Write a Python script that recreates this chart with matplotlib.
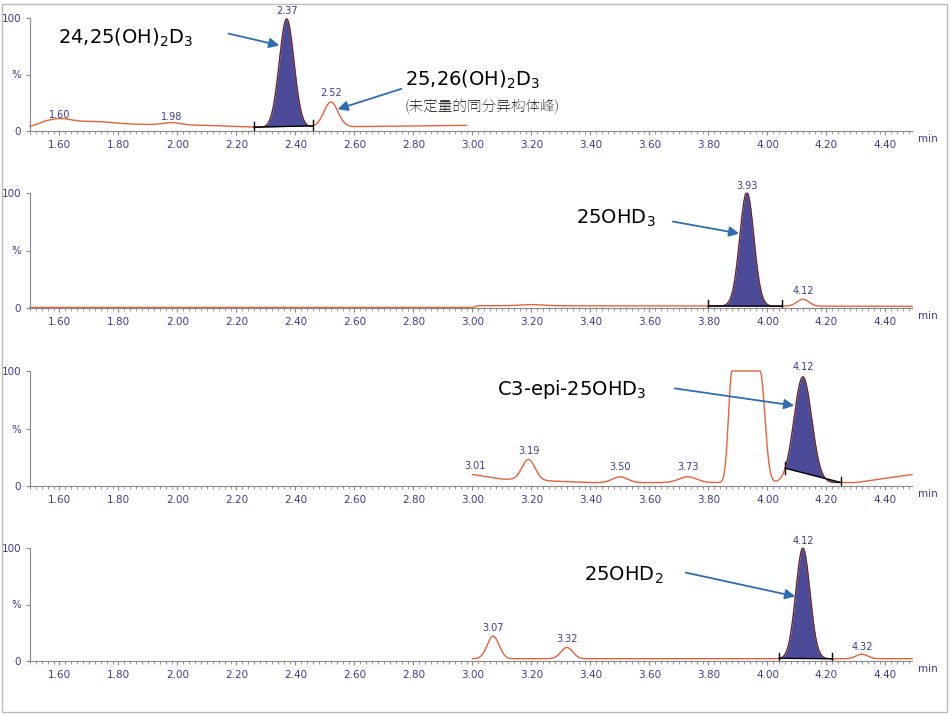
import numpy as np
import matplotlib
matplotlib.use("Agg")
import matplotlib.pyplot as plt
from matplotlib import font_manager

# ---- data: peak tables per panel (centre min, height %, width sigma min)
x_ticks = [1.60, 1.80, 2.00, 2.20, 2.40, 2.60, 2.80, 3.00, 3.20, 3.40, 3.60, 3.80, 4.00, 4.20, 4.40]
p1_peaks = [(1.60, 4, 0.04), (1.72, 2, 0.06), (1.98, 2, 0.03), (2.37, 96, 0.025), (2.52, 22, 0.024)]
p1_base = [(1.50, 4), (1.55, 7), (2.10, 5), (2.30, 3), (2.98, 5)]
p2_peaks = [(3.20, 1, 0.04), (3.93, 99, 0.024), (4.12, 6, 0.02)]
p2_base = [(1.50, 0.5), (3.00, 0.5), (3.02, 2), (4.49, 1.5)]
p3_peaks = [(3.19, 18, 0.022), (3.50, 5, 0.025), (3.73, 5, 0.03), (4.12, 92, 0.03)]
p3_base = [(3.00, 10), (3.10, 6), (3.40, 3), (3.80, 3), (4.30, 3), (4.49, 10)]
p3_sat = (3.88, 3.975)
p4_peaks = [(3.07, 20, 0.02), (3.32, 10, 0.02), (4.12, 98, 0.024), (4.32, 4, 0.02)]
p4_base = [(3.00, 2), (4.49, 2)]
peak_labels = [
    [(1.60, 9, "1.60"), (1.98, 7, "1.98"), (2.37, 101, "2.37"), (2.52, 28, "2.52")],
    [(3.93, 101, "3.93"), (4.12, 9, "4.12")],
    [(3.01, 12, "3.01"), (3.19, 25, "3.19"), (3.50, 11, "3.50"), (3.73, 11, "3.73"), (4.12, 98, "4.12")],
    [(3.07, 24, "3.07"), (3.32, 14, "3.32"), (4.12, 101, "4.12"), (4.32, 7, "4.32")],
]
fills = [(2.26, 2.46), (3.80, 4.05), (4.06, 4.25), (4.04, 4.22)]

def trace(peaks, base, x0, x1, sat=None):
    x = np.linspace(x0, x1, 1500)
    bx, by = zip(*base)
    y = np.interp(x, bx, by)
    for c, h, s in peaks:
        y = y + h * np.exp(-0.5 * ((x - c) / s) ** 2)
    if sat:
        a, b = sat
        inside = (x >= a) & (x <= b)
        y[inside] = 100
        left = x < a
        y[left] += 97 * np.exp(-0.5 * ((x[left] - a) / 0.012) ** 2)
        right = x > b
        y[right] += 97 * np.exp(-0.5 * ((x[right] - b) / 0.016) ** 2)
    return x, np.minimum(y, 100)

traces = [
    [trace(p1_peaks, p1_base, 1.50, 2.98)],
    [trace(p2_peaks, p2_base, 1.50, 4.49)],
    [trace(p3_peaks, p3_base, 3.00, 4.49, p3_sat)],
    [trace(p4_peaks, p4_base, 3.00, 4.49)],
]

cjk = None
for f in font_manager.fontManager.ttflist:
    if "CJK SC" in f.name or ("CJK" in f.name and cjk is None):
        cjk = f.fname
        if "CJK SC" in f.name:
            break
cjk_prop = font_manager.FontProperties(fname=cjk, size=10.5) if cjk else font_manager.FontProperties(family="Noto Sans CJK SC", size=10.5)

W, H = 950, 714
fig = plt.figure(figsize=(9.5, 7.14), dpi=100)
fig.patch.set_facecolor("white")
fig.add_artist(plt.Rectangle((2 / W, 2 / H), 945 / W, 708 / H, transform=fig.transFigure,
                             fill=False, edgecolor="#bbbbbb", lw=1))
panels = [(18, 131), (193, 308), (371, 486), (548, 661)]
tick_col = "#3c3c8c"
red = "#e8603c"
fill_col = "#4b4b9a"
for i, (top, bot) in enumerate(panels):
    ax = fig.add_axes([30 / W, 1 - bot / H, 882 / W, (bot - top) / H])
    ax.set_xlim(1.5, 4.49)
    ax.set_ylim(0, 100)
    for s in ["top", "right"]:
        ax.spines[s].set_visible(False)
    for s in ["left", "bottom"]:
        ax.spines[s].set_color("#888888")
    ax.set_xticks(x_ticks)
    ax.set_xticklabels([f"{t:.2f}" for t in x_ticks])
    ax.set_xticks(np.arange(1.5, 4.5, 0.02), minor=True)
    ax.set_yticks([0, 50, 100])
    ax.set_yticklabels(["0", "%", "100"])
    ax.tick_params(axis="both", labelsize=7.5, labelcolor=tick_col, color="#888888", length=3)
    ax.tick_params(axis="x", which="minor", length=2, color="#888888")
    ax.text(4.51, -3, "min", fontsize=7.5, color=tick_col, ha="left", va="top", clip_on=False)
    for x, y in traces[i]:
        ax.plot(x, y, color=red, lw=1, clip_on=False)
        a, b = fills[i]
        m = (x >= a) & (x <= b)
        ya, yb = np.interp(a, x, y), np.interp(b, x, y)
        bl = np.interp(x[m], [a, b], [ya, yb])
        ax.fill_between(x[m], bl, y[m], color=fill_col, lw=0)
        ax.plot(x[m], y[m], color="#222244", lw=0.6)
        ax.plot([a, b], [ya, yb], color="black", lw=1)
        for xx, yy in [(a, ya), (b, yb)]:
            ax.plot([xx, xx], [yy - 5, yy + 5], color="black", lw=1)
    for x, y, t in peak_labels[i]:
        ax.text(x, y + 1, t, fontsize=7, color=tick_col, ha="center", va="bottom", clip_on=False)

arrow_col = "#2e6db4"
def note(text, tx, ty, ax0, ay0, ax1, ay1, size=14):
    fig.text(tx / W, 1 - ty / H, text, fontsize=size, ha="left", va="center")
    fig.add_artist(matplotlib.patches.FancyArrowPatch(
        (ax0 / W, 1 - ay0 / H), (ax1 / W, 1 - ay1 / H), transform=fig.transFigure,
        arrowstyle="-|>,head_length=6,head_width=3", color=arrow_col, lw=1.3))

note("24,25(OH)$_2$D$_3$", 58, 38, 226, 33, 282, 46)
note("25,26(OH)$_2$D$_3$", 405, 80, 404, 88, 335, 110)
fig.text(405 / W, 1 - 107 / H, "(未定量的同分异构体峰)", fontproperties=cjk_prop,
         ha="left", va="center")
note("25OHD$_3$", 576, 218, 670, 221, 742, 234)
note("C3-epi-25OHD$_3$", 497, 390, 672, 388, 797, 406)
note("25OHD$_2$", 584, 575, 683, 572, 798, 597)

fig.savefig("out.png", dpi=100)
